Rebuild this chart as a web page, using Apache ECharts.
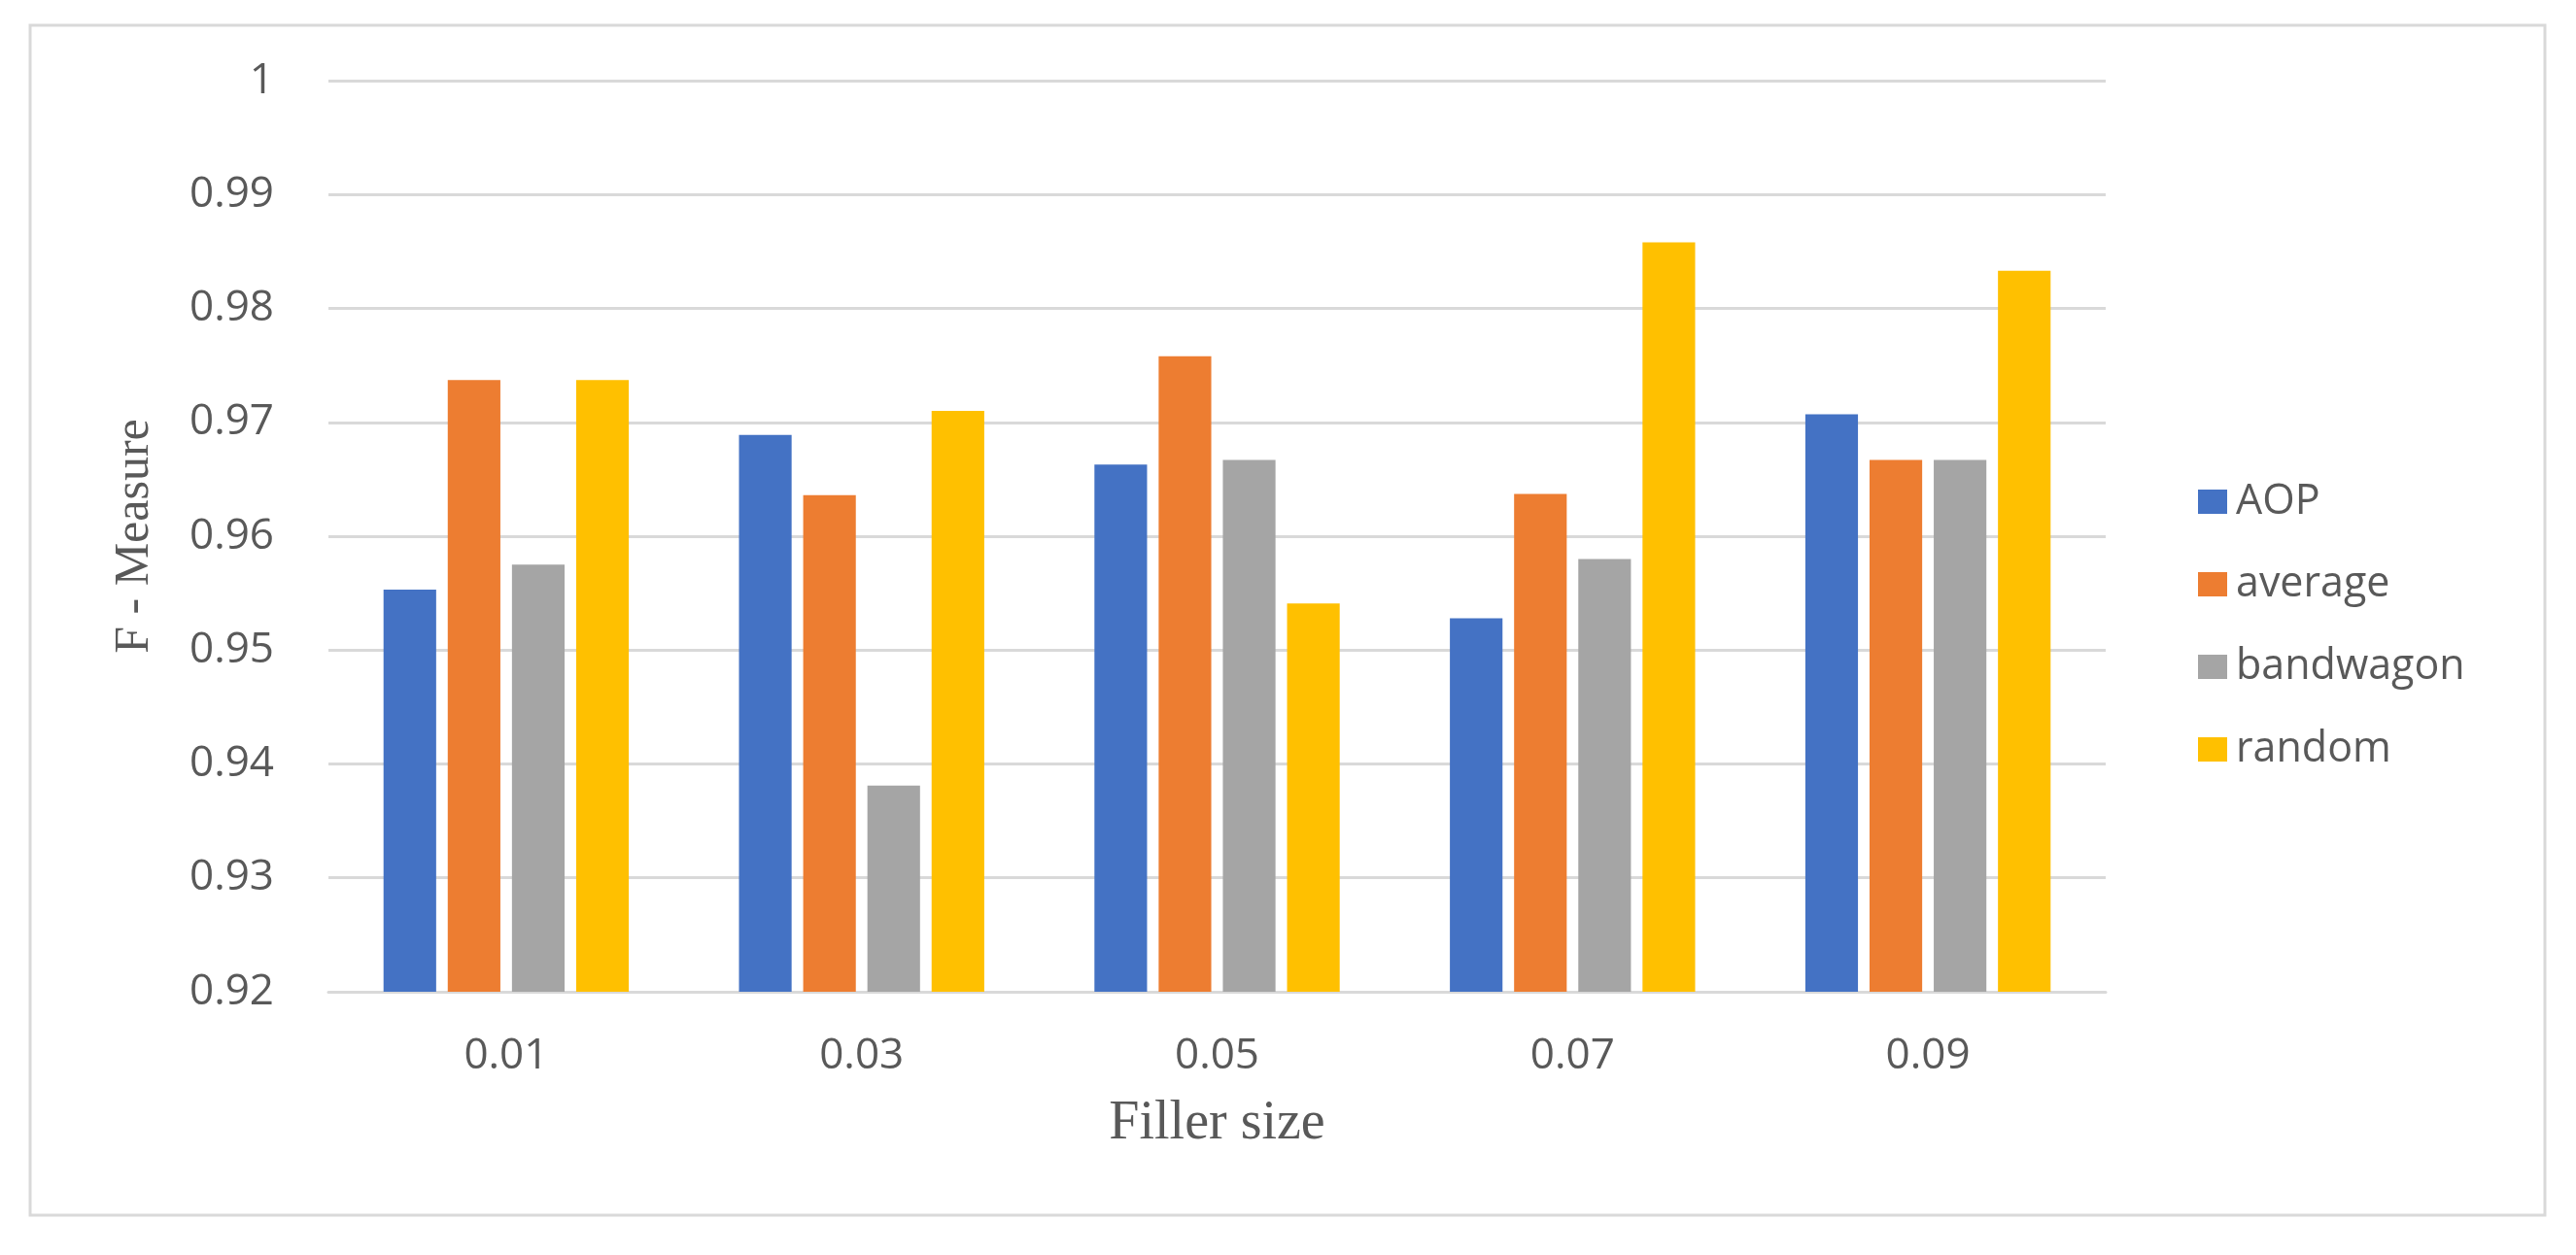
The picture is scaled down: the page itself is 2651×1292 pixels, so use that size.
<!DOCTYPE html>
<html>
<head>
<meta charset="utf-8">
<script src="https://cdn.jsdelivr.net/npm/echarts@6/dist/echarts.min.js"></script>
<style>
html,body{margin:0;padding:0;background:#fff;}
#chart{width:2651px;height:1292px;}
</style>
</head>
<body>
<div id="chart"></div>
<script>
const categories = ['0.01', '0.03', '0.05', '0.07', '0.09'];
const seriesNames = ['AOP', 'average', 'bandwagon', 'random'];
const aop       = [0.9553, 0.9689, 0.9663, 0.9528, 0.9707];
const average   = [0.9737, 0.9636, 0.9758, 0.9637, 0.9667];
const bandwagon = [0.9575, 0.9381, 0.9667, 0.9580, 0.9667];
const random    = [0.9737, 0.9710, 0.9541, 0.9858, 0.9833];
const yMin = 0.92, yMax = 1.0, yInterval = 0.01;
const xTitle = 'Filler size';
const yTitle = 'F - Measure';

const colors = ['#4472C4', '#ED7D31', '#A5A5A5', '#FFC000'];
const values = [aop, average, bandwagon, random];

const chart = echarts.init(document.getElementById('chart'), null, {renderer: 'canvas'});
const textColor = '#595959';
const sans = '"Open Sans", "Noto Sans", sans-serif';
const serif = '"Liberation Serif", "DejaVu Serif", serif';

chart.setOption({
  animation: false,
  backgroundColor: '#ffffff',
  color: colors,
  graphic: [{
    type: 'rect',
    shape: {x: 31, y: 26, width: 2588, height: 1225},
    style: {fill: 'none', stroke: '#d9d9d9', lineWidth: 3},
    silent: true
  }],
  grid: {left: 338, right: 484, top: 83, bottom: 271, containLabel: false},
  legend: {
    orient: 'vertical',
    left: 2257,
    top: 490,
    itemWidth: 30,
    itemHeight: 25,
    itemGap: 42,
    icon: 'rect',
    textStyle: {color: textColor, fontSize: 43, fontFamily: sans, padding: [0, 0, 0, 4]},
    data: seriesNames
  },
  xAxis: {
    type: 'category',
    data: categories,
    name: xTitle,
    nameLocation: 'middle',
    nameGap: 108,
    nameTextStyle: {color: textColor, fontSize: 56, fontFamily: serif},
    axisLine: {show: true, lineStyle: {color: '#d9d9d9', width: 3}},
    axisTick: {show: false},
    axisLabel: {color: textColor, fontSize: 44, fontFamily: sans, margin: 44}
  },
  yAxis: {
    type: 'value',
    min: yMin,
    max: yMax,
    interval: yInterval,
    name: yTitle,
    nameLocation: 'middle',
    nameGap: 174,
    nameTextStyle: {color: textColor, fontSize: 50, fontFamily: serif},
    axisLine: {show: false},
    axisTick: {show: false},
    splitLine: {show: true, lineStyle: {color: '#d9d9d9', width: 3}},
    axisLabel: {
      color: textColor, fontSize: 44, fontFamily: sans, margin: 56,
      formatter: v => String(parseFloat(v.toFixed(2)))
    }
  },
  series: seriesNames.map((n, i) => ({
    name: n,
    type: 'bar',
    data: values[i],
    barGap: '22%',
    barCategoryGap: '31%',
    itemStyle: {color: colors[i]}
  }))
});
</script>
</body>
</html>
